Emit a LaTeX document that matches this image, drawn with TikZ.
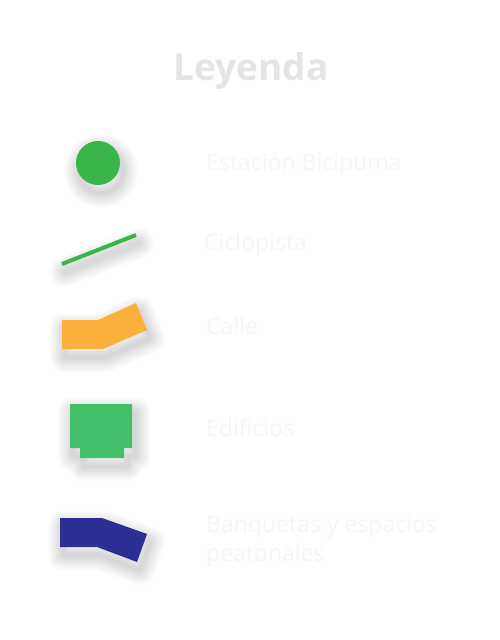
\documentclass[tikz,border=0pt]{standalone}
\usepackage{fontspec}
\setmainfont{Open Sans}
\usetikzlibrary{positioning}
\definecolor{lgGreen}{RGB}{58,181,74}
\definecolor{lgOrange}{RGB}{251,176,59}
\definecolor{lgBuild}{RGB}{66,193,106}
\definecolor{lgNavy}{RGB}{45,46,145}
\definecolor{lgTitle}{RGB}{228,228,228}
\definecolor{lgText}{RGB}{246,246,246}
\tikzset{
  legtext/.style={text=lgText, anchor=base west, inner sep=0pt, font=\fontsize{23}{29}\selectfont},
  softshadow/.style={draw=black, draw opacity=0.016, line join=round, line cap=round, shift={(3,8)}},
}
\begin{document}
\begin{tikzpicture}[x=1pt,y=-1pt]
\fill[white] (0,0) rectangle (500,640);
\useasboundingbox (0,0) rectangle (500,640);
\node[text=lgTitle, anchor=base, inner sep=0pt, font=\bfseries\fontsize{37}{44}\selectfont] (title) at (251,80) {Leyenda};
% estacion
\foreach \w in {3,6,...,30}
  \draw[softshadow, line width=\w pt] (98,163) circle (22);
\fill[lgGreen] (98,163) circle (22);
\node[legtext] (estacion) at (206,170) {Estación Bicipuma};
% ciclopista
\foreach \w in {6,9,...,30}
  \draw[softshadow, line width=\w pt] (62,264) -- (136,235);
\draw[lgGreen, line width=4pt] (62,264) -- (136,235);
\node[legtext] (ciclo) at (204,250) {Ciclopista};
% calle
\foreach \w in {3,6,...,30}
  \draw[softshadow, line width=\w pt] (62,320) -- (98,320) -- (136,303) -- (147,330) -- (103,349) -- (62,349) -- cycle;
\fill[lgOrange] (62,320) -- (98,320) -- (136,303) -- (147,330) -- (103,349) -- (62,349) -- cycle;
\node[legtext] (calle) at (206,334) {Calle};
% edificios
\foreach \w in {3,6,...,30}
  \draw[softshadow, line width=\w pt] (70,404) -- (132,404) -- (132,448) -- (124,448) -- (124,458) -- (80,458) -- (80,448) -- (70,448) -- cycle;
\fill[lgBuild] (70,404) -- (132,404) -- (132,448) -- (124,448) -- (124,458) -- (80,458) -- (80,448) -- (70,448) -- cycle;
\node[legtext] (edif) at (206,436) {Edificios};
% banquetas
\foreach \w in {3,6,...,30}
  \draw[softshadow, line width=\w pt] (60,518) -- (102,518) -- (147,534) -- (137,562) -- (97,547) -- (60,547) -- cycle;
\fill[lgNavy] (60,518) -- (102,518) -- (147,534) -- (137,562) -- (97,547) -- (60,547) -- cycle;
\node[legtext] (banq) at (206,532) {Banquetas y espacios};
\node[legtext] (banq2) at (206,561) {peatonales};
\end{tikzpicture}
\end{document}
